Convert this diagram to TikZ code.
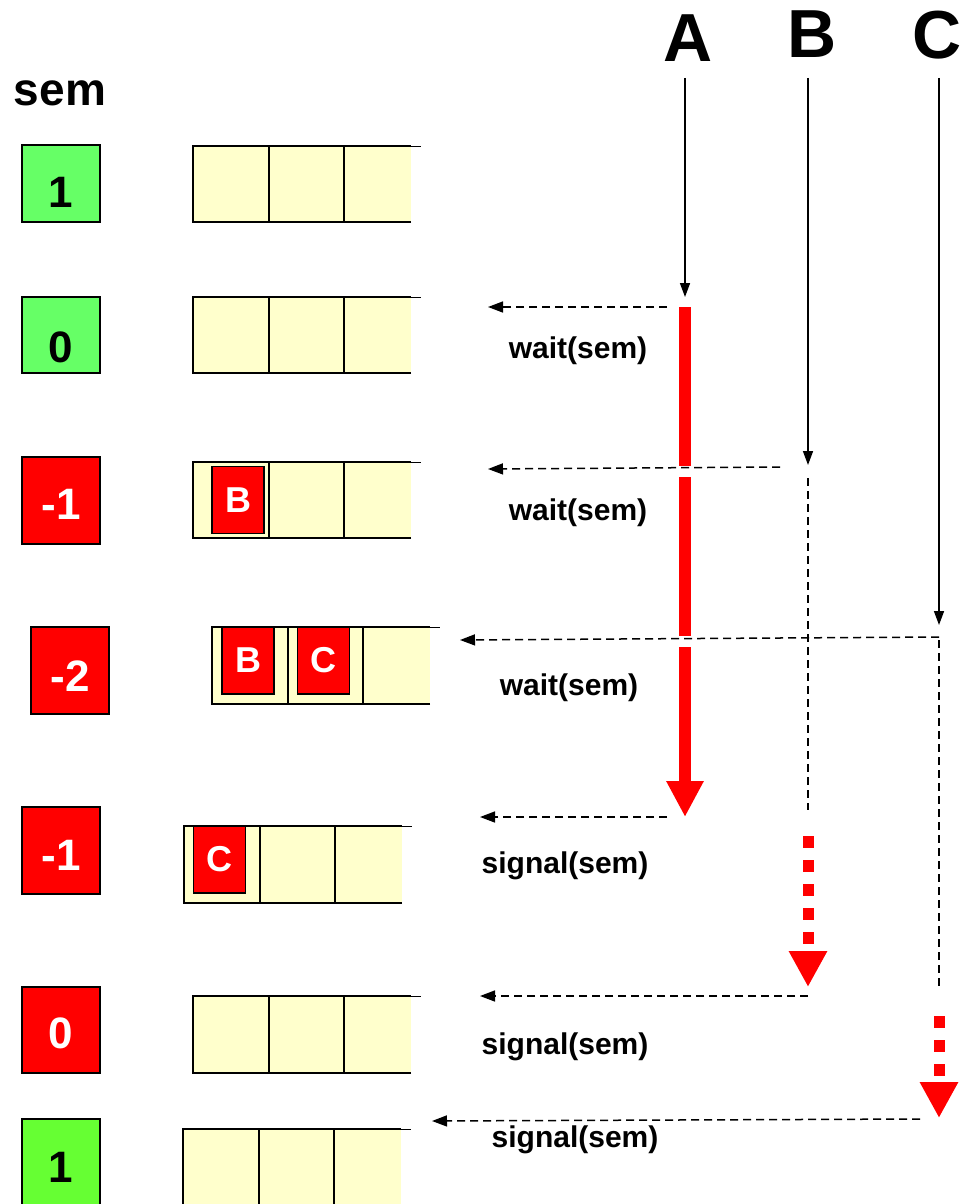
\documentclass[tikz,border=0pt]{standalone}
\usepackage{fontspec}
\setmainfont{Liberation Sans}
\usetikzlibrary{arrows.meta}

\definecolor{semgreen}{RGB}{102,255,102}
\definecolor{semlime}{RGB}{102,255,51}
\definecolor{semred}{RGB}{255,0,0}
\definecolor{queuefill}{RGB}{255,255,204}

\begin{document}
\begin{tikzpicture}[x = 1pt, y = -1pt,
    semval/.style = {draw = black, line width = 1.5pt, minimum width = 78pt,
      inner sep = 0pt, text depth = 0pt, font = \fontsize{44}{44}\selectfont\bfseries},
    waiter/.style = {draw = black, fill = semred, line width = 1.5pt,
      minimum width = 52pt, minimum height = 67pt, inner sep = 0pt,
      text = white, font = \fontsize{36}{36}\selectfont\bfseries},
    proc/.style = {font = \fontsize{68}{68}\selectfont\bfseries},
    call/.style = {font = \fontsize{30}{30}\selectfont\bfseries},
    flow/.style = {line width = 1.5pt, -{Triangle[length = 14pt, width = 10pt]}},
    request/.style = {line width = 1.5pt, dash pattern = on 8pt off 5pt,
      -{Triangle[length = 15pt, width = 11pt]}},
    idle/.style = {line width = 1.5pt, dash pattern = on 8pt off 5pt},
    run/.style = {draw = semred, line width = 12pt},
    blocked/.style = {draw = semred, line width = 11pt, dash pattern = on 12pt off 12pt,
      -{Triangle[length = 36pt, width = 36pt]}}]

        \useasboundingbox (0,0) rectangle (963,1204);

        % draws the titles
        \node[font = \fontsize{46}{46}\selectfont\bfseries] (sem) at (60,93) {sem};
        \node[proc] (pA) at (688,38) {A};
        \node[proc] (pB) at (812,34) {B};
        \node[proc] (pC) at (937,35) {C};

        % draws the semaphore values
        \foreach \cx/\cy/\h/\dy/\col/\txt/\val [count = \i] in
          {61/183.5/77/8/semgreen/black/1, 61/335/76/12/semgreen/black/0,
           61/500.5/87/3/semred/white/-1, 70/670.5/87/5/semred/white/-2,
           61/850.5/87/4/semred/white/-1, 61/1030/86/3/semred/white/0,
           61/1162/86/5/semlime/black/1}
          \node[semval, fill = \col, minimum height = \h pt, text height = 31pt + 2*\dy pt,
            text = \txt] (s\i) at (\cx,\cy) {\val};

        % draws the queues
        \foreach \qx/\qy/\qh in {193/146/76, 193/297/76, 193/462/76, 212/627/77,
                                 184/826/77, 193/996/77, 183/1129/76} {
          \fill[queuefill] (\qx,\qy) rectangle ++(218,\qh);
          \draw[line width = 1.5pt]
            (\qx+218,\qy+\qh) -- (\qx,\qy+\qh) -- (\qx,\qy) -- (\qx+218,\qy);
          \draw[line width = .8pt] (\qx+218,\qy) -- ++(10,0);
          \foreach \d in {76,151}
            \draw[line width = 1.5pt] (\qx+\d,\qy) -- ++(0,\qh);
        }

        % draws the waiting processes
        \node[waiter] (qb3) at (238,500) {B};
        \node[waiter] (qb4) at (248,660.5) {B};
        \node[waiter] (qc4) at (323.5,660.5) {C};
        \node[waiter] (qc5) at (219.5,859.5) {C};

        % draws the time lines
        \coordinate (a0) at (685,78);  \coordinate (a1) at (685,297);
        \coordinate (b0) at (808,78);  \coordinate (b1) at (808,465);
        \coordinate (c0) at (939,78);  \coordinate (c1) at (939,625);
        \draw[flow] (a0) -- (a1);
        \draw[flow] (b0) -- (b1);
        \draw[flow] (c0) -- (c1);

        \draw[run] (685,307) -- (685,466);
        \draw[run] (685,477) -- (685,636);
        \draw[run, -{Triangle[length = 36pt, width = 35pt]}] (685,647) -- (685,817);

        \draw[idle] (808,478) -- (808,810);
        \draw[blocked] (808,836) -- (808,987);
        \draw[idle] (939,640) -- (939,987);
        \draw[blocked] (939,1016) -- (939,1118);

        % draws the calls
        \coordinate (ra1) at (667,307);  \coordinate (qa1) at (488,307);
        \coordinate (rb1) at (780,467);  \coordinate (qb1) at (488,469);
        \coordinate (rc1) at (939,637);  \coordinate (qc1) at (460,640);
        \coordinate (ra2) at (667,817);  \coordinate (qa2) at (480,817);
        \coordinate (rb2) at (808,996);  \coordinate (qb2) at (480,996);
        \coordinate (rc2) at (920,1119); \coordinate (qc2) at (432,1121);
        \draw[request] (ra1) -- (qa1);
        \draw[request] (rb1) -- (qb1);
        \draw[request] (rc1) -- (qc1);
        \draw[request] (ra2) -- (qa2);
        \draw[request] (rb2) -- (qb2);
        \draw[request] (rc2) -- (qc2);

        \node[call] (wa) at (578,351) {wait(sem)};
        \node[call] (wb) at (578,513) {wait(sem)};
        \node[call] (wc) at (569,688) {wait(sem)};
        \node[call] (sa) at (565,866) {signal(sem)};
        \node[call] (sb) at (565,1047) {signal(sem)};
        \node[call] (sc) at (575,1140) {signal(sem)};
      \end{tikzpicture}
\end{document}
